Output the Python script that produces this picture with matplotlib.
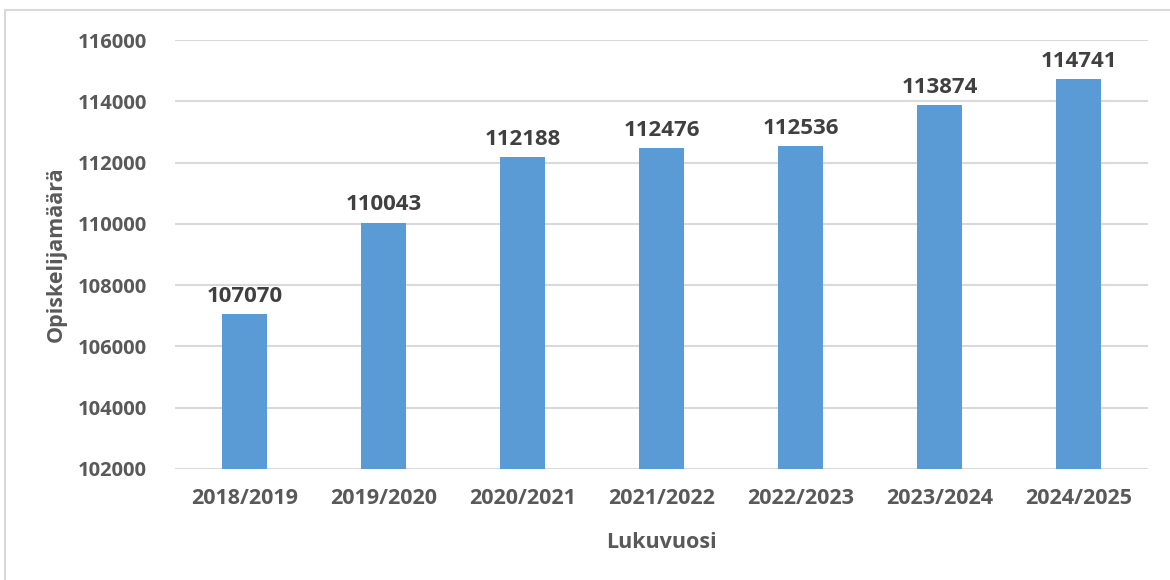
import matplotlib
matplotlib.use("Agg")
import matplotlib.pyplot as plt
from matplotlib.patches import Rectangle

# data
vuodet = ["2018/2019", "2019/2020", "2020/2021", "2021/2022", "2022/2023", "2023/2024", "2024/2025"]
opiskelijat = [107070, 110043, 112188, 112476, 112536, 113874, 114741]

plt.rcParams['font.family'] = ['Open Sans', 'DejaVu Sans']

fig = plt.figure(figsize=(11.7, 5.8), dpi=100)
ax = fig.add_axes([175/1170, 1 - 469/580, (1148 - 175)/1170, (469 - 40)/580])

# reunus kuvan ympari
fig.patches.append(Rectangle((5/1170, -0.05), 1.2, 1 - 10/580 + 0.05, transform=fig.transFigure,
                             fill=False, edgecolor='#D9D9D9', lw=1.5))

x = range(len(vuodet))
bars = ax.bar(x, opiskelijat, width=0.32, color='#5B9BD5', zorder=3)
for xi, v in zip(x, opiskelijat):
    ax.text(xi, v + 230, str(v), ha='center', va='bottom', fontsize=16,
            fontweight='bold', color='#404040')

ax.set_ylim(102000, 116000)
ax.set_xlim(-0.5, len(vuodet) - 0.5)
ax.set_yticks(range(102000, 116001, 2000))
ax.set_xticks(list(x))
ax.set_xticklabels(vuodet)
ax.yaxis.grid(True, color='#D9D9D9', lw=1.5, zorder=0)
ax.tick_params(length=0, labelsize=15.5, labelcolor='#595959')
ax.tick_params(axis='y', labelsize=14.5, pad=20)
ax.tick_params(axis='x', pad=14)
for lab in ax.get_xticklabels() + ax.get_yticklabels():
    lab.set_fontweight('bold')
for s in ax.spines.values():
    s.set_visible(False)

ax.set_xlabel("Lukuvuosi", fontsize=15.5, fontweight='bold', color='#595959', labelpad=16)
ax.set_ylabel("Opiskelijamäärä", fontsize=15.5, fontweight='bold', color='#595959', labelpad=8)

fig.savefig("out.png", dpi=100)
